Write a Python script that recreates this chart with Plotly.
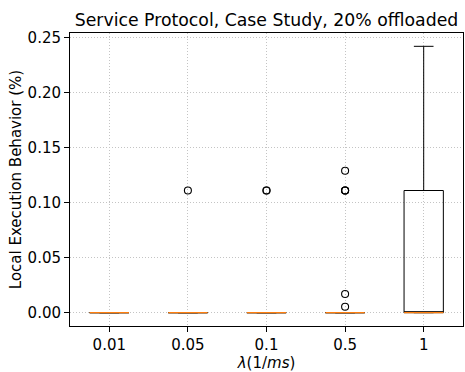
import plotly.graph_objects as go

# Arrival rates (lambda, 1/ms) and per-rate box statistics
rates = ["0.01", "0.05", "0.1", "0.5", "1"]
q1 = [0.0, 0.0, 0.0, 0.0, 0.0]
median = [0.0, 0.0, 0.0, 0.0, 0.0]
q3 = [0.0, 0.0, 0.0, 0.0, 0.111]
lower_whisker = [0.0, 0.0, 0.0, 0.0, 0.0]
upper_whisker = [0.0, 0.0, 0.0, 0.0, 0.242]

# Outlier observations per rate
outliers = [
    [],
    [0.111],
    [0.111, 0.111],
    [0.129, 0.111, 0.111, 0.111, 0.017, 0.0054],
    [],
]

y_ticks = [0.0, 0.05, 0.10, 0.15, 0.20, 0.25]
y_tick_text = ["0.00", "0.05", "0.10", "0.15", "0.20", "0.25"]

FONT = "DejaVu Sans"
pos = list(range(1, len(rates) + 1))
half = 0.25

fig = go.Figure()

fig.add_trace(go.Box(
    x=pos, q1=q1, median=median, q3=q3,
    lowerfence=lower_whisker, upperfence=upper_whisker,
    width=2 * half, whiskerwidth=0.5,
    fillcolor="rgba(255,255,255,0)",
    line=dict(color="black", width=1),
    boxpoints=False, showlegend=False, hoverinfo="skip",
))

# orange median bars
for p, m in zip(pos, median):
    fig.add_trace(go.Scatter(
        x=[p - half, p + half], y=[m, m], mode="lines",
        line=dict(color="#ff7f0e", width=1.3),
        showlegend=False, hoverinfo="skip",
    ))

# fliers
fx, fy = [], []
for p, vals in zip(pos, outliers):
    fx += [p] * len(vals)
    fy += vals
fig.add_trace(go.Scatter(
    x=fx, y=fy, mode="markers",
    marker=dict(symbol="circle-open", size=7, color="black",
                line=dict(width=1.1, color="black")),
    showlegend=False, hoverinfo="skip",
))

axis_common = dict(
    showline=True, linecolor="black", linewidth=1, mirror=True,
    ticks="outside", ticklen=5, tickwidth=1, tickcolor="black",
    showgrid=True, gridcolor="#c4c4c4", gridwidth=0.8, griddash="1px,2px",
    zeroline=False, tickfont=dict(family=FONT, size=15, color="black"),
)

fig.update_layout(
    width=465, height=372,
    margin=dict(l=70, r=2, t=33, b=46),
    paper_bgcolor="white", plot_bgcolor="white",
    font=dict(family=FONT, color="black"),
    title=dict(text="Service Protocol, Case Study, 20% offloaded",
               font=dict(family=FONT, size=17.3, color="black"),
               x=0.5, xanchor="center", xref="paper",
               y=1, yanchor="bottom", yref="paper", pad=dict(b=7)),
    xaxis=dict(range=[0.5, 5.5], tickvals=pos, ticktext=rates,
               title=dict(text="<i>λ</i>(1/<i>ms</i>)",
                          font=dict(family=FONT, size=15), standoff=2),
               **axis_common),
    yaxis=dict(range=[-0.0121, 0.2541], tickvals=y_ticks, ticktext=y_tick_text,
               title=dict(text="Local Execution Behavior (%)",
                          font=dict(family=FONT, size=15), standoff=2),
               **axis_common),
)

fig.write_html("out.html")
